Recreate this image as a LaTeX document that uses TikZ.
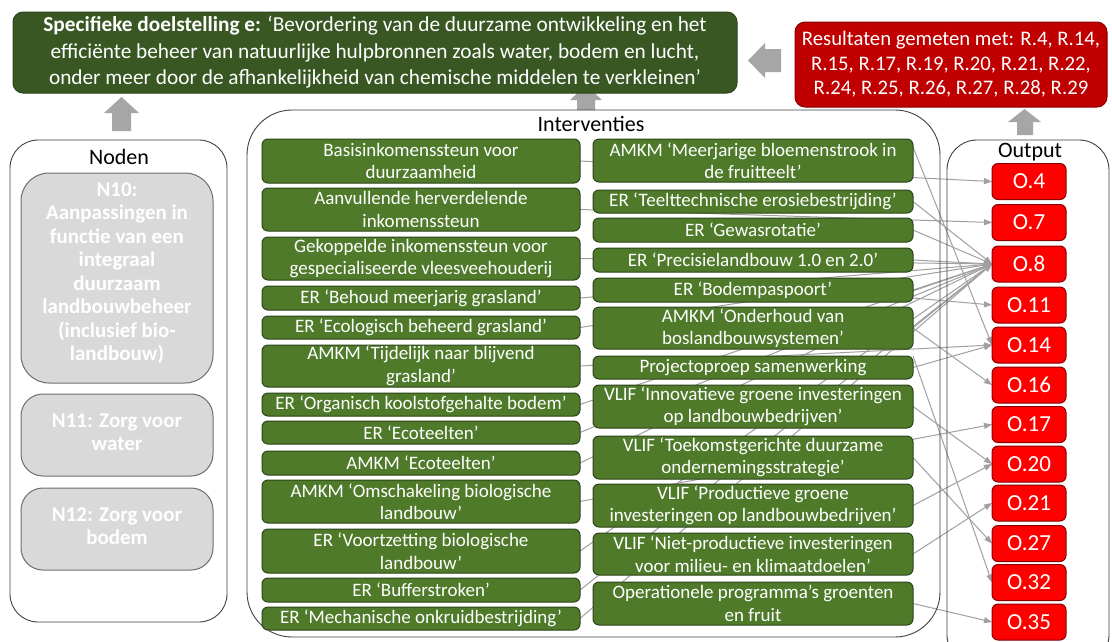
\documentclass[tikz,border=0pt]{standalone}
\usepackage{fontspec}
\setmainfont{Carlito}
\usetikzlibrary{arrows.meta}
\definecolor{cTop}{HTML}{385723}
\definecolor{cGbox}{HTML}{4E7A2A}
\definecolor{cGedge}{HTML}{2C4518}
\definecolor{cRtop}{HTML}{C00000}
\definecolor{cRbox}{HTML}{FF0000}
\definecolor{cRedge}{HTML}{8A0000}
\definecolor{cNfill}{HTML}{D9D9D9}
\definecolor{cNedge}{HTML}{6E6E6E}
\definecolor{cArr}{HTML}{A6A6A6}
\definecolor{cLine}{HTML}{A0A0A0}
\newcommand\myfs[2]{\fontsize{#1}{#2}\selectfont}
\pgfdeclarelayer{bglayer}
\pgfdeclarelayer{linelayer}
\pgfsetlayers{bglayer,linelayer,main}
\tikzset{
 cont/.style={draw=black!75, line width=0.9pt, inner sep=0pt, outer sep=0pt},
 ibox/.style={draw=cGedge, line width=1pt, fill=cGbox, rounded corners=6pt, text=white, align=center, inner sep=0pt, outer sep=0pt, font=\myfs{19}{22.5}},
 lbox/.style={ibox, minimum width=318pt},
 rbox/.style={ibox, minimum width=320pt},
 obox/.style={draw=cRedge, line width=1pt, fill=cRbox, rounded corners=6pt, text=white, minimum width=74pt, minimum height=36pt, inner sep=0pt, outer sep=0pt, font=\myfs{23}{26}},
 nbox/.style={draw=cNedge, line width=1pt, fill=cNfill, rounded corners=22pt, minimum width=192pt, inner sep=0pt, outer sep=0pt},
 ntext/.style={text=white, align=center, inner sep=0pt, font=\bfseries\myfs{21}{23.5}},
 ttl/.style={font=\myfs{22}{26}, inner sep=0pt},
 conn/.style={draw=cLine, line width=1pt, -{Triangle[length=8pt,width=6pt]}},
 barrow/.style={fill=cArr},
}
\begin{document}
\begin{tikzpicture}[x=1pt,y=-1pt]
\begin{pgfonlayer}{bglayer}
\fill[white] (0,0) rectangle (1112,641);
\end{pgfonlayer}
\useasboundingbox (0,0) rectangle (1112,641);

% containers
\node[cont, rounded corners=28pt, minimum width=217pt, minimum height=482pt] (noden) at (118.5,381) {};
\node[cont, rounded corners=45pt, minimum width=693pt, minimum height=527pt] (interv) at (593.5,373.5) {};
\node[cont, rounded corners=30pt, minimum width=162pt, minimum height=525pt] (outc) at (1028,402.5) {};
\node[ttl] (tN) at (119,157) {Noden};
\node[ttl] (tI) at (591,124) {Interventies};
\node[ttl] (tO) at (1030,152) {Output};

% top boxes
\node[draw=cGedge, line width=1pt, fill=cTop, rounded corners=10pt, text=white, align=center, inner sep=0pt, minimum width=724pt, minimum height=81pt, font=\myfs{21.3}{26.5}] (goal) at (375,52.5)
 {\textbf{Specifieke doelstelling e:} ‘Bevordering van de duurzame ontwikkeling en het\\ efficiënte beheer van natuurlijke hulpbronnen zoals water, bodem en lucht,\\ onder meer door de afhankelijkheid van chemische middelen te verkleinen’};
\node[draw=cRedge, line width=1pt, fill=cRtop, rounded corners=10pt, text=white, align=center, inner sep=0pt, minimum width=312pt, minimum height=85pt, font=\myfs{20.7}{24.5}] (res) at (951,64.5)
 {Resultaten gemeten met: R.4, R.14,\\ R.15, R.17, R.19, R.20, R.21, R.22,\\ R.24, R.25, R.26, R.27, R.28, R.29};

% block arrows
\fill[barrow] (112,131) -- (112,113) -- (104,113) -- (121.5,97) -- (139,113) -- (131,113) -- (131,131) -- cycle;
\begin{pgfonlayer}{bglayer}
\fill[barrow] (577,110) -- (577,100) -- (570,100) -- (586,85) -- (602,100) -- (595,100) -- (595,110) -- cycle;
\end{pgfonlayer}
\fill[barrow] (1017,135) -- (1017,122) -- (1008,122) -- (1024.5,109) -- (1041,122) -- (1033,122) -- (1033,135) -- cycle;
\fill[barrow] (781,49) -- (765,49) -- (765,43) -- (748,60.5) -- (765,78) -- (765,72) -- (781,72) -- cycle;

% Noden
\node[nbox, rounded corners=28pt, minimum height=210pt] (n10) at (117,278) {};
\node[ntext] (n10t) at (117,273) {N10:\\Aanpassingen in\\functie van een\\integraal\\duurzaam\\landbouwbeheer\\(inclusief bio-\\landbouw)};
\node[nbox, minimum height=82pt] (n11) at (117,435) {};
\node[ntext] (n11t) at (117,432) {N11: Zorg voor\\water};
\node[nbox, minimum height=82pt] (n12) at (117,529) {};
\node[ntext] (n12t) at (117,526) {N12: Zorg voor\\bodem};

% left column
\node[lbox, minimum height=44pt] (L1) at (421,161) {Basisinkomenssteun voor\\duurzaamheid};
\node[lbox, minimum height=43pt] (L2) at (421,209.5) {Aanvullende herverdelende\\inkomenssteun};
\node[lbox, minimum height=43pt] (L3) at (421,258.5) {Gekoppelde inkomenssteun voor\\gespecialiseerde vleesveehouderij};
\node[lbox, minimum height=24pt] (L4) at (421,298) {ER ‘Behoud meerjarig grasland’};
\node[lbox, minimum height=23pt] (L5) at (421,327.5) {ER ‘Ecologisch beheerd grasland’};
\node[lbox, minimum height=42pt] (L6) at (421,366) {AMKM ‘Tijdelijk naar blijvend\\grasland’};
\node[lbox, minimum height=23pt] (L7) at (421,404.5) {ER ‘Organisch koolstofgehalte bodem’};
\node[lbox, minimum height=23pt] (L8) at (421,432.5) {ER ‘Ecoteelten’};
\node[lbox, minimum height=24pt] (L9) at (421,463) {AMKM ‘Ecoteelten’};
\node[lbox, minimum height=43pt] (L10) at (421,501.5) {AMKM ‘Omschakeling biologische\\landbouw’};
\node[lbox, minimum height=44pt] (L11) at (421,551) {ER ‘Voortzetting biologische\\landbouw’};
\node[lbox, minimum height=24pt] (L12) at (421,590) {ER ‘Bufferstroken’};
\node[lbox, minimum height=23pt] (L13) at (421,618.5) {ER ‘Mechanische onkruidbestrijding’};

% right column
\node[rbox, minimum height=43pt] (R1) at (753,160.5) {AMKM ‘Meerjarige bloemenstrook in\\de fruitteelt’};
\node[rbox, minimum height=23pt] (R2) at (753,201.5) {ER ‘Teelttechnische erosiebestrijding’};
\node[rbox, minimum height=24pt] (R3) at (753,230) {ER ‘Gewasrotatie’};
\node[rbox, minimum height=24pt] (R4) at (753,260) {ER ‘Precisielandbouw 1.0 en 2.0’};
\node[rbox, minimum height=24pt] (R5) at (753,290) {ER ‘Bodempaspoort’};
\node[rbox, minimum height=42pt] (R6) at (753,328) {AMKM ‘Onderhoud van\\boslandbouwsystemen’};
\node[rbox, minimum height=23pt] (R7) at (753,367.5) {Projectoproep samenwerking};
\node[rbox, minimum height=43pt] (R8) at (753,406.5) {VLIF ‘Innovatieve groene investeringen\\op landbouwbedrijven’};
\node[rbox, minimum height=43pt] (R9) at (753,457.5) {VLIF ‘Toekomstgerichte duurzame\\ondernemingsstrategie’};
\node[rbox, minimum height=43pt] (R10) at (753,505.5) {VLIF ‘Productieve groene\\investeringen op landbouwbedrijven’};
\node[rbox, minimum height=42pt] (R11) at (753,554) {VLIF ‘Niet-productieve investeringen\\voor milieu- en klimaatdoelen’};
\node[rbox, minimum height=43pt] (R12) at (753,603.5) {Operationele programma’s groenten\\en fruit};

% outputs
\node[obox] (O4) at (1029,181.5) {O.4};
\node[obox] (O7) at (1029,222.5) {O.7};
\node[obox] (O8) at (1029,264) {O.8};
\node[obox] (O11) at (1029,305) {O.11};
\node[obox] (O14) at (1029,345) {O.14};
\node[obox] (O16) at (1029,385) {O.16};
\node[obox] (O17) at (1029,424.5) {O.17};
\node[obox] (O20) at (1029,464) {O.20};
\node[obox] (O21) at (1029,503) {O.21};
\node[obox] (O27) at (1029,543.5) {O.27};
\node[obox] (O32) at (1029,582.5) {O.32};
\node[obox] (O35) at (1029,622) {O.35};

% connectors
\begin{pgfonlayer}{linelayer}
\draw[conn] (L1.east) -- (O4.west);
\draw[conn] (L2.east) -- (O7.west);
\draw[conn] (L3.east) -- (O8.west);
\draw[conn] (L4.east) -- (O8.west);
\draw[conn] (L5.east) -- (O8.west);
\draw[conn] (L6.east) -- (O14.west);
\draw[conn] (L7.east) -- (O8.west);
\draw[conn] (L8.east) -- (O8.west);
\draw[conn] (L9.east) -- (O8.west);
\draw[conn] (L10.east) -- (O17.west);
\draw[conn] (L11.east) -- (O8.west);
\draw[conn] (L12.east) -- (O8.west);
\draw[conn] (L13.east) -- (O8.west);
\draw[conn] (R1.north east) ++(0,8) -- (O14.west);
\draw[conn] (R2.east) -- (O8.west);
\draw[conn] (R3.east) -- (O8.west);
\draw[conn] (R4.east) -- (O8.west);
\draw[conn] (R5.east) -- (O8.west);
\draw[conn] (R5.south east) ++(0,-4) -- (O11.west);
\draw[conn] (R6.east) -- (O8.west);
\draw[conn] (R6.east) -- (O16.west);
\draw[conn] (R7.east) -- (O14.west);
\draw[conn] (R7.north east) -- (O32.west);
\draw[conn] (R8.east) -- (O20.west);
\draw[conn] (R9.east) -- (O27.west);
\draw[conn] (R10.east) -- (O20.west);
\draw[conn] (R11.east) -- (O21.west);
\draw[conn] (R12.east) -- (O35.west);
\end{pgfonlayer}
\end{tikzpicture}
\end{document}
